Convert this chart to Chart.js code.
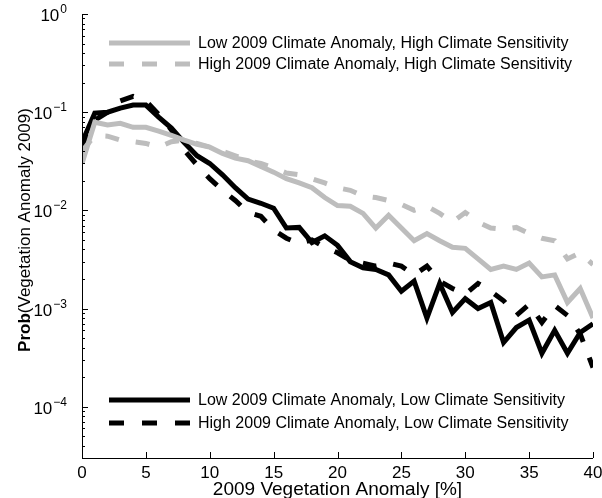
<!DOCTYPE html>
<html>
<head>
<meta charset="utf-8">
<script src="https://cdn.jsdelivr.net/npm/chart.js@4.4.1/dist/chart.umd.min.js"></script>
<style>
  body { margin: 0; background: #fff; }
</style>
</head>
<body>
<canvas id="chart" width="602" height="498"></canvas>
<script>
// x positions (vegetation anomaly, %)
const anomaly = [0,1,2,3,4,5,6,7,8,9,10,11,12,13,14,15,16,17,18,19,20,
                 21,22,23,24,25,26,27,28,29,30,31,32,33,34,35,36,37,38,39,40];

// Low 2009 climate anomaly, high climate sensitivity (grey solid)
const lowHigh = [0.03,0.079,0.074,0.077,0.07,0.07,0.064,0.058,0.052,0.047,0.044,
                 0.038,0.034,0.032,0.028,0.0245,0.021,0.019,0.017,0.0135,0.0112,
                 0.011,0.0093,0.0066,0.0089,0.0066,0.0049,0.0058,0.0049,0.0042,0.0041,
                 0.0032,0.0025,0.0027,0.0025,0.0029,0.0021,0.0022,0.00115,0.0016,0.0008];

// High 2009 climate anomaly, high climate sensitivity (grey dashed)
const highHigh = [0.04,0.058,0.057,0.052,0.05,0.048,0.044,0.05,0.052,0.048,0.044,
                  0.04,0.036,0.032,0.03,0.027,0.024,0.023,0.021,0.019,0.017,
                  0.016,0.014,0.0135,0.0126,0.0115,0.01,0.011,0.0093,0.0076,0.0095,
                  0.0076,0.0066,0.0064,0.0067,0.0058,0.0052,0.0049,0.0032,0.0037,0.0028];

// Low 2009 climate anomaly, low climate sensitivity (black solid)
const lowLow = [0.049,0.098,0.1,0.11,0.118,0.118,0.089,0.069,0.049,0.036,0.03,
                0.023,0.017,0.013,0.0118,0.0105,0.0066,0.0067,0.0047,0.0055,0.0044,
                0.003,0.0026,0.0025,0.0022,0.0015,0.0019,0.0008,0.0018,0.00091,0.00126,
                0.001,0.00115,0.00045,0.00064,0.00076,0.00035,0.0006,0.00035,0.00057,0.0007];

// High 2009 climate anomaly, low climate sensitivity (black dashed)
const highLow = [0.044,0.083,0.1,0.13,0.145,0.13,0.095,0.066,0.041,0.029,0.021,
                 0.016,0.0126,0.0095,0.0087,0.0063,0.0052,0.0046,0.005,0.0042,0.0037,
                 0.0031,0.0029,0.0027,0.0029,0.0027,0.0022,0.0027,0.0019,0.0016,0.0014,
                 0.0018,0.0015,0.0012,0.00085,0.0011,0.00072,0.00107,0.00085,0.00055,0.00025];

const seriesLabels = [
  "Low 2009 Climate Anomaly, High Climate Sensitivity",
  "High 2009 Climate Anomaly, High Climate Sensitivity",
  "Low 2009 Climate Anomaly, Low Climate Sensitivity",
  "High 2009 Climate Anomaly, Low Climate Sensitivity"
];

const xTicks = [0,5,10,15,20,25,30,35,40];
const yDecades = [0,-1,-2,-3,-4];

const FONT = "'Liberation Sans', Arial, Helvetica, sans-serif";
const GREY = "#bdbdbd";
const DASH = [14, 17];

function points(ys) {
    return anomaly.map((x, i) => ({ x: x, y: ys[i] }));
}

function line(label, ys, color, dashed) {
    return {
        label: label,
        data: points(ys),
        borderColor: color,
        borderWidth: 5,
        borderDash: dashed ? DASH : [],
        borderCapStyle: "butt",
        borderJoinStyle: "miter",
        pointRadius: 0,
        tension: 0,
        fill: false
    };
}

// axes, ticks, labels and the two legend boxes, matlab style
const decor = {
    id: "decor",
    afterDraw(chart) {
        const c = chart.ctx;
        const a = chart.chartArea;
        const xs = chart.scales.x, ys = chart.scales.y;
        c.save();
        c.strokeStyle = "#000";
        c.fillStyle = "#000";
        c.lineWidth = 1;

        // axis lines
        c.beginPath();
        c.moveTo(a.left + 0.5, a.top);
        c.lineTo(a.left + 0.5, a.bottom + 0.5);
        c.lineTo(a.right, a.bottom + 0.5);
        c.stroke();

        // x ticks (inward)
        c.beginPath();
        xTicks.forEach(v => {
            const px = Math.round(xs.getPixelForValue(v)) + 0.5;
            c.moveTo(px, a.bottom);
            c.lineTo(px, a.bottom - 6);
        });
        // y major + minor ticks
        for (let d = -5; d <= 0; d++) {
            for (let m = 1; m <= 9; m++) {
                const v = m * Math.pow(10, d);
                if (v < ys.min || v > ys.max) continue;
                const py = Math.round(ys.getPixelForValue(v)) + 0.5;
                c.moveTo(a.left, py);
                c.lineTo(a.left + (m === 1 ? 6 : 3), py);
            }
        }
        c.stroke();

        // x tick labels
        c.font = "17px " + FONT;
        c.textAlign = "center";
        c.textBaseline = "top";
        xTicks.forEach(v => c.fillText(String(v), xs.getPixelForValue(v), a.bottom + 7));

        // y tick labels 10^n
        yDecades.forEach(d => {
            const py = ys.getPixelForValue(Math.pow(10, d));
            const exp = d === 0 ? "0" : "\u2212" + (-d);
            c.font = "12px " + FONT;
            const we = c.measureText(exp).width;
            c.textAlign = "left";
            c.textBaseline = "alphabetic";
            const right = a.left - 15;
            c.fillText(exp, right - we, py - 1);
            c.font = "17px " + FONT;
            const wb = c.measureText("10").width;
            c.fillText("10", right - we - wb - 1, py + 7);
        });

        // x title
        c.font = "19px " + FONT;
        c.textAlign = "center";
        c.textBaseline = "alphabetic";
        c.fillText("2009 Vegetation Anomaly [%]", (a.left + a.right) / 2, 495);

        // y title, "Prob" in bold
        c.save();
        c.translate(30, 230);
        c.rotate(-Math.PI / 2);
        c.font = "bold 17px " + FONT;
        const w1 = c.measureText("Prob").width;
        c.font = "17px " + FONT;
        const w2 = c.measureText("(Vegetation Anomaly 2009)").width;
        const x0 = -(w1 + w2) / 2;
        c.textAlign = "left";
        c.font = "bold 17px " + FONT;
        c.fillText("Prob", x0, 0);
        c.font = "17px " + FONT;
        c.fillText("(Vegetation Anomaly 2009)", x0 + w1, 0);
        c.restore();

        // legends: grey pair top, black pair bottom
        const rows = [[0, 43], [1, 64], [2, 400], [3, 423]];
        rows.forEach(([i, y]) => {
            const ds = chart.data.datasets[i];
            c.beginPath();
            c.strokeStyle = ds.borderColor;
            c.lineWidth = 5;
            c.lineCap = "butt";
            c.setLineDash(ds.borderDash.length ? [15, 18] : []);
            c.moveTo(109, y);
            c.lineTo(190, y);
            c.stroke();
            c.setLineDash([]);
            c.font = "16px " + FONT;
            c.textAlign = "left";
            c.textBaseline = "middle";
            c.fillStyle = "#000";
            c.fillText(ds.label, 198, y + 1);
        });
        c.restore();
    }
};

new Chart(document.getElementById("chart"), {
    type: "line",
    data: {
        datasets: [
            line(seriesLabels[0], lowHigh, GREY, false),
            line(seriesLabels[1], highHigh, GREY, true),
            line(seriesLabels[2], lowLow, "#000", false),
            line(seriesLabels[3], highLow, "#000", true)
        ]
    },
    options: {
        responsive: false,
        animation: false,
        layout: { padding: { top: 14, right: 9, left: 0, bottom: 0 } },
        plugins: { legend: { display: false }, tooltip: { enabled: false } },
        scales: {
            x: {
                type: "linear", min: 0, max: 40,
                grid: { display: false, drawTicks: false },
                border: { display: false },
                ticks: { display: false },
                afterFit: s => { s.height = 40; }
            },
            y: {
                type: "logarithmic", min: 3e-5, max: 1,
                grid: { display: false, drawTicks: false },
                border: { display: false },
                ticks: { display: false },
                afterFit: s => { s.width = 82; }
            }
        }
    },
    plugins: [decor]
});
</script>
</body>
</html>
